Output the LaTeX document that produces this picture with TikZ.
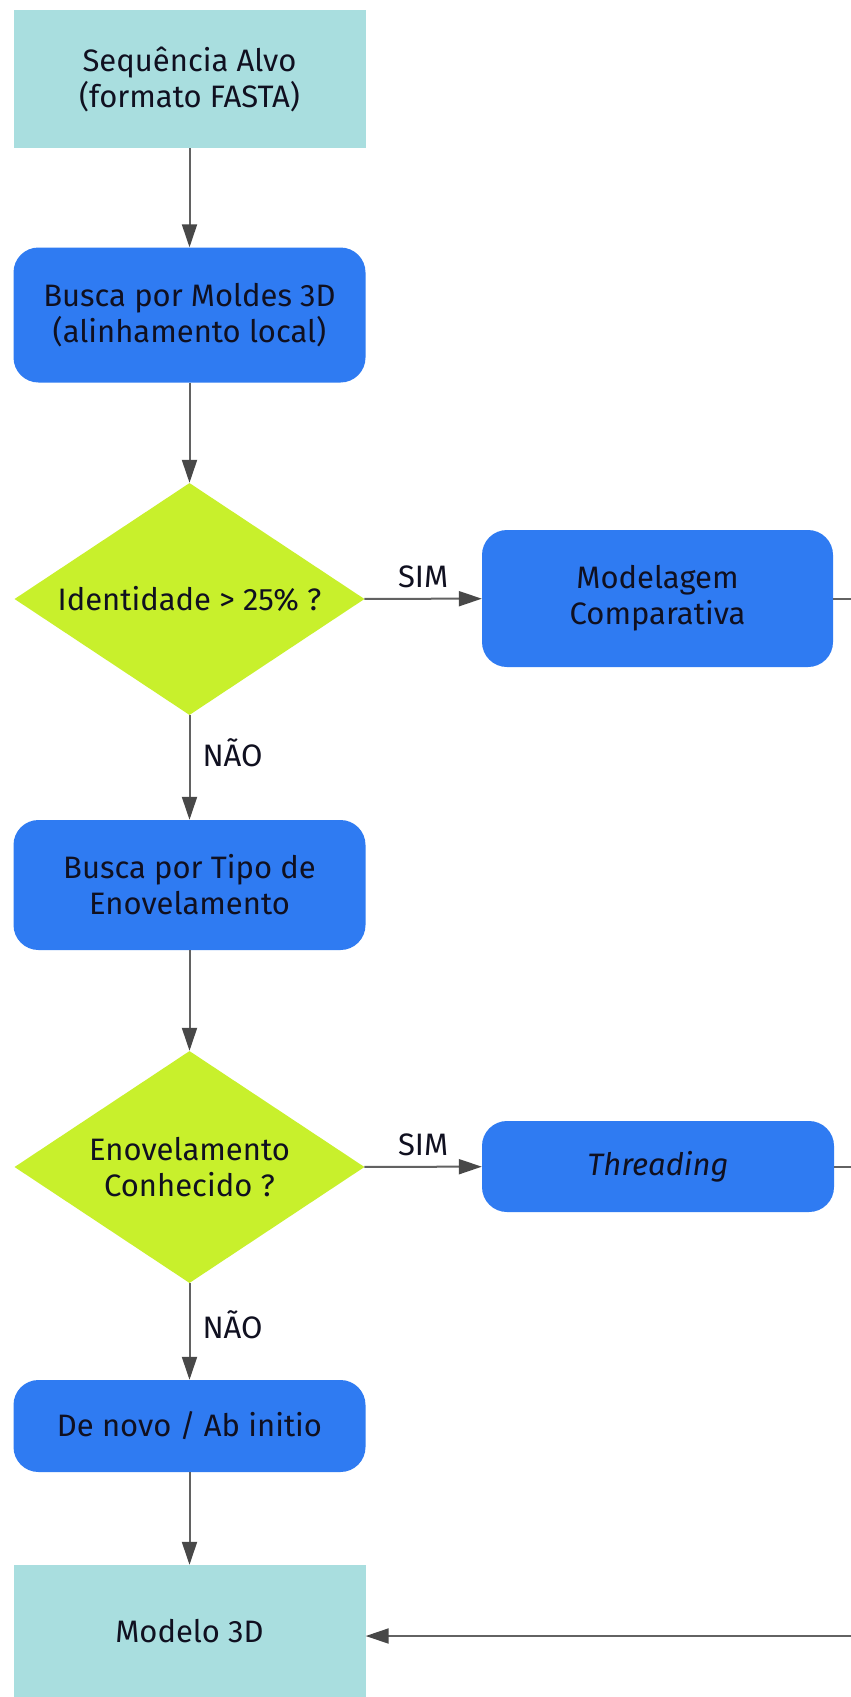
\documentclass[tikz,border=0pt]{standalone}
\usepackage{fontspec}
\setmainfont{Fira Sans}
\usetikzlibrary{shapes.geometric,arrows.meta}
\definecolor{teal}{HTML}{A9DEDF}
\definecolor{bblue}{HTML}{2F7BF2}
\definecolor{lime}{HTML}{C8F02C}
\definecolor{conn}{HTML}{626262}
\definecolor{tipc}{HTML}{484848}
\definecolor{txt}{HTML}{101020}
\tikzset{
  endbox/.style={rectangle, fill=teal, minimum width=352pt, inner sep=0pt, align=center, text=txt, font=\fontsize{31}{36}\selectfont},
  procbox/.style={rectangle, rounded corners=25pt, fill=bblue, minimum width=352pt, inner sep=0pt, align=center, text=txt, font=\fontsize{31}{36}\selectfont},
  decbox/.style={diamond, fill=lime, minimum width=350pt, minimum height=232pt, aspect=1.5, inner sep=0pt, align=center, text=txt, font=\fontsize{31}{36}\selectfont},
  conn/.style={draw=conn, line width=2pt, -{Triangle[length=23pt,width=15pt,color=tipc]}},
  plain/.style={draw=conn, line width=2pt},
  lbl/.style={text=txt, font=\fontsize{31}{34}\selectfont, inner sep=0pt}
}
\begin{document}
\begin{tikzpicture}[x=1pt,y=-1pt]
\useasboundingbox (0,0) rectangle (851,1697);
\fill[white] (0,0) rectangle (851,1697);
\node[endbox, minimum height=138pt] (seq) at (189.5,79) {Sequência Alvo\\(formato FASTA)};
\node[procbox, minimum height=135pt] (busca) at (189.5,315) {Busca por Moldes 3D\\(alinhamento local)};
\node[decbox] (id) at (189.5,599) {Identidade > 25\% ?};
\node[procbox, minimum width=351pt, minimum height=137pt] (comp) at (657.5,598.5) {Modelagem\\Comparativa};
\node[procbox, minimum height=130pt] (tipo) at (189.5,885) {Busca por Tipo de\\Enovelamento};
\node[decbox] (enov) at (189.5,1167) {Enovelamento\\Conhecido ?};
\node[procbox, minimum height=91pt] (thr) at (658,1166.5) {\itshape Threading};
\node[procbox, minimum height=92pt] (denovo) at (189.5,1426) {De novo / Ab initio};
\node[endbox, minimum height=132pt] (modelo) at (189.5,1631) {Modelo 3D};
\coordinate (r1) at (851,598.5);
\coordinate (r2) at (851,1166.5);
\coordinate (r3) at (851,1636);
\draw[conn] (seq) -- (busca);
\draw[conn] (busca) -- (id);
\draw[conn] (id) -- node[lbl, above=10pt] (sim1) {SIM} (comp);
\draw[conn] (id) -- node[lbl, right=12pt, pos=0.36] (nao1) {NÃO} (tipo);
\draw[conn] (tipo) -- (enov);
\draw[conn] (enov) -- node[lbl, above=10pt] (sim2) {SIM} (thr);
\draw[conn] (enov) -- node[lbl, right=12pt, pos=0.43] (nao2) {NÃO} (denovo);
\draw[conn] (denovo) -- (modelo);
\draw[plain] (comp.east) -- (r1);
\draw[plain] (thr.east) -- (r2);
\draw[conn] (r3) -- (modelo.east |- r3);
\end{tikzpicture}
\end{document}
